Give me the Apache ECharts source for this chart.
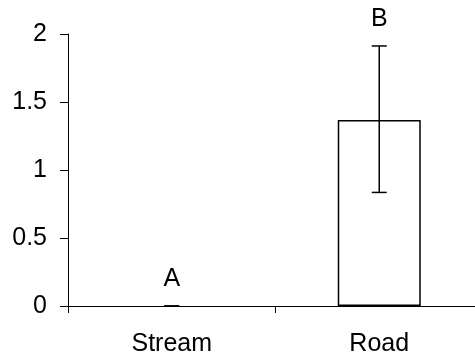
<!DOCTYPE html>
<html>
<head>
<meta charset="utf-8">
<script src="https://cdn.jsdelivr.net/npm/echarts@6/dist/echarts.min.js"></script>
<style>html,body{margin:0;padding:0;background:#fff}#c{width:475px;height:360px}</style>
</head>
<body>
<div id="c"></div>
<script>
var categories = ['Stream', 'Road'];
var means = [0, 1.367];
var errLow = [0, 0.835];
var errHigh = [0, 1.912];
var letters = ['A', 'B'];
var yTicks = [0, 0.5, 1, 1.5, 2];

var FONT = 'Liberation Sans, Arial, sans-serif';
var FS = 25;
var chart = echarts.init(document.getElementById('c'), null, {renderer: 'canvas'});
var errData = categories.map(function (c, i) { return [i, errLow[i], errHigh[i], letters[i]]; });
var barData = means.map(function (v) {
  return v === 0 ? {value: v, itemStyle: {borderWidth: 0}} : v;
});

chart.setOption({
  animation: false,
  grid: {left: 68, top: 34, width: 415, bottom: 54, outerBoundsMode: 'none', containLabel: false},
  xAxis: {
    type: 'category',
    data: categories,
    axisLine: {lineStyle: {color: '#000', width: 1}},
    axisTick: {show: true, length: 7, lineStyle: {color: '#000'}},
    axisLabel: {color: '#000', fontSize: FS, fontFamily: FONT, margin: 26}
  },
  yAxis: {
    type: 'value',
    min: yTicks[0], max: yTicks[yTicks.length - 1], interval: 0.5,
    splitLine: {show: false},
    axisLine: {show: true, lineStyle: {color: '#000', width: 1}},
    axisTick: {show: true, length: 8, lineStyle: {color: '#000'}},
    axisLabel: {color: '#000', fontSize: FS, fontFamily: FONT, margin: 21,
      formatter: function (v) { return String(v); }}
  },
  series: [
    {
      type: 'bar',
      data: barData,
      barWidth: '40%',
      itemStyle: {color: '#fff', borderColor: '#000', borderWidth: 1.5},
      z: 2
    },
    {
      type: 'custom',
      data: errData,
      z: 3,
      renderItem: function (params, api) {
        var x = api.value(0);
        var lo = api.coord([x, api.value(1)]);
        var hi = api.coord([x, api.value(2)]);
        var hw = 7.5;
        var style = {stroke: '#000', lineWidth: 1.5};
        return {
          type: 'group',
          children: [
            {type: 'line', shape: {x1: hi[0], y1: hi[1], x2: lo[0], y2: lo[1]}, style: style},
            {type: 'line', shape: {x1: hi[0] - hw, y1: hi[1], x2: hi[0] + hw, y2: hi[1]}, style: style},
            {type: 'line', shape: {x1: lo[0] - hw, y1: lo[1], x2: lo[0] + hw, y2: lo[1]}, style: style},
            {type: 'text', x: hi[0], y: hi[1] - 27,
              style: {text: letters[params.dataIndex], fill: '#000', font: FS + 'px ' + FONT,
                align: 'center', verticalAlign: 'middle'}}
          ]
        };
      }
    }
  ]
});
</script>
</body>
</html>
